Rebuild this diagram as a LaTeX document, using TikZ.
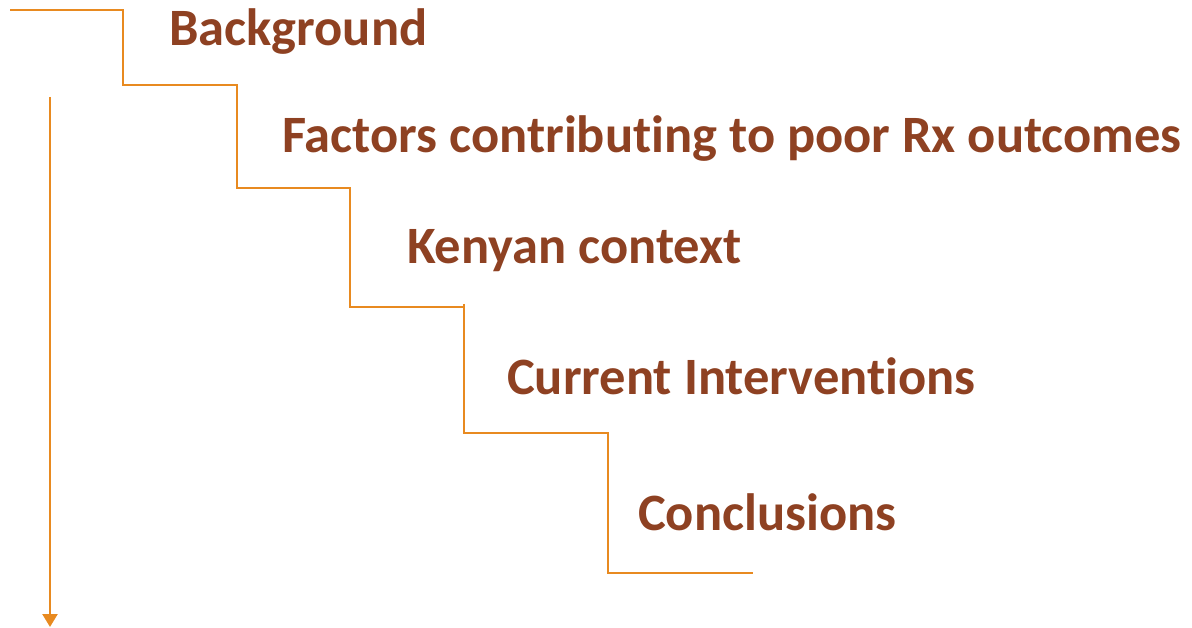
\documentclass[tikz,border=0pt]{standalone}
\usepackage{fontspec}
\setmainfont{Carlito}[Ligatures={NoCommon,NoDiscretionary}]
\usepackage{tikz}
\usetikzlibrary{arrows.meta}
\usepackage{xcolor}
\definecolor{stairorange}{RGB}{232,138,32}
\definecolor{topicbrown}{RGB}{142,65,34}

\begin{document}
\begin{tikzpicture}[
  x=1pt,y=-1pt,
  stair/.style={draw=stairorange,line width=2.5pt,line join=miter},
  flow/.style={-{Triangle[width=15pt,length=13pt]},draw=stairorange,line width=2.5pt},
  topic/.style={anchor=base west,inner sep=0pt,text=topicbrown,
    font=\fontsize{52.5}{60}\selectfont\bfseries}
]
  \useasboundingbox (0,0) rectangle (1192,628);

  % Topic headings, one per step
  \node[topic] (bg_lbl)   at (169,46)  {Background};
  \node[topic] (fac_lbl)  at (282,153) {Factors contributing to poor Rx outcomes};
  \node[topic] (ken_lbl)  at (407,264) {Kenyan context};
  \node[topic] (cur_lbl)  at (507,395) {Current Interventions};
  \node[topic] (con_lbl)  at (638,530) {Conclusions};

  % Staircase
  \draw[stair] (10,10) -- (123,10) -- (123,85) -- (237,85) -- (237,188)
    -- (350,188) -- (350,307) -- (464,307);
  \draw[stair] (464,304) -- (464,433) -- (608,433) -- (608,573) -- (753,573);

  % Downward arrow on the left
  \coordinate (arr_top) at (50,97);
  \coordinate (arr_end) at (50,627);
  \draw[flow] (arr_top) -- (arr_end);
\end{tikzpicture}
\end{document}
